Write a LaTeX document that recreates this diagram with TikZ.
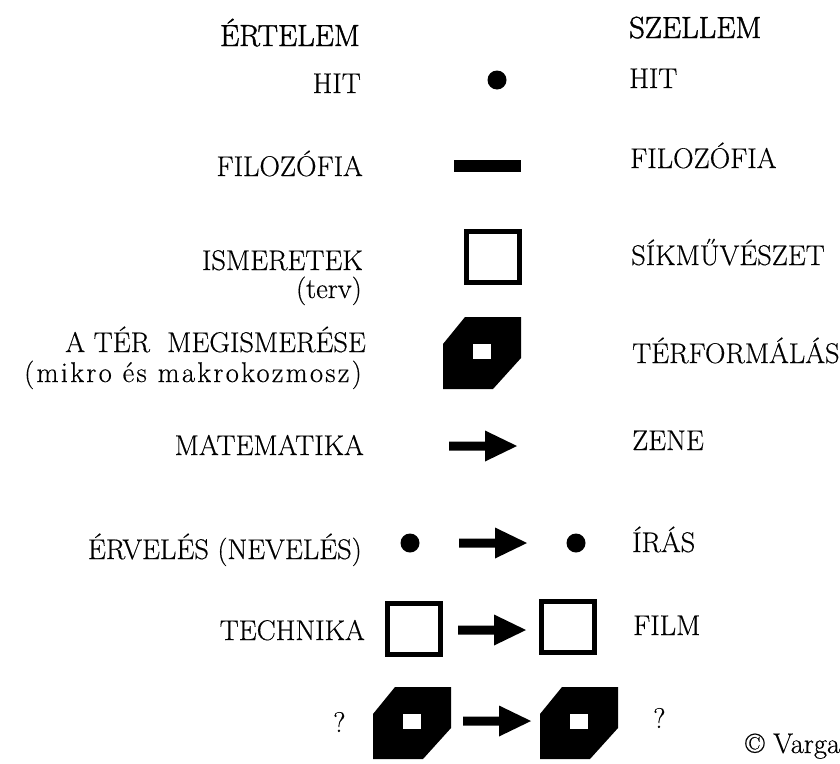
\documentclass[tikz,border=0pt]{standalone}
\usepackage{fontspec}
\setmainfont[FakeBold=0.4]{Latin Modern Roman}
\newfontfamily\headfont[FakeBold=1.4]{Latin Modern Roman}
\newfontfamily\spacedfont[LetterSpace=8,FakeBold=0.4]{Latin Modern Roman}
\begin{document}
\begin{tikzpicture}[x=1pt,y=-1pt,
  lbl/.style={inner sep=0pt, font=\fontsize{28.5}{32}\selectfont},
  lft/.style={lbl, anchor=base east},
  rgt/.style={lbl, anchor=base west},
  headl/.style={inner sep=0pt, font=\headfont\fontsize{30.5}{34}\selectfont},
  blackdot/.style={circle, fill=black, minimum size=19pt, inner sep=0pt},
  openbox/.style={draw=black, line width=5pt, minimum width=53pt, minimum height=51pt, inner sep=0pt},
  blackbar/.style={fill=black, minimum width=67pt, minimum height=12pt, inner sep=0pt},
  pics/bigarrow/.style={code={\fill[black] (0,-4.5) -- (36,-4.5) -- (36,-15.5) -- (68,0) -- (36,15.5) -- (36,4.5) -- (0,4.5) -- cycle;}},
  pics/cube/.style={code={\fill[black] (0,27) -- (22,0) -- (78,0) -- (78,41) -- (50,72) -- (0,72) -- cycle; \fill[white] (30,27) rectangle (48,42);}}
]
\fill[white] (0,0) rectangle (840,763);
\useasboundingbox (0,0) rectangle (840,763);

% headers
\node[headl, anchor=base east] (hl) at (360,46) {ÉRTELEM};
\node[headl, anchor=base west] (hr) at (629,38) {SZELLEM};

% row 1
\node[lft] (l1) at (361,93) {HIT};
\node[blackdot] (d1) at (497,80) {};
\node[rgt] (r1) at (629,88) {HIT};

% row 2
\node[lft] (l2) at (363,176) {FILOZÓFIA};
\node[blackbar] (b2) at (487.5,166) {};
\node[rgt] (r2) at (630,168) {FILOZÓFIA};

% row 3
\node[lft] (l3) at (363,270) {ISMERETEK};
\node[lft] (l3b) at (362,298) {(terv)};
\node[openbox] (s3) at (492.5,257) {};
\node[rgt] (r3) at (631,265) {SÍKMŰVÉSZET};

% row 4
\node[lft] (l4) at (366,352) {A TÉR\ \ MEGISMERÉSE};
\node[lft, font=\spacedfont\fontsize{28.5}{32}\selectfont] (l4b) at (362,382) {(mikro és makrokozmosz)};
\pic (c4) at (443,317) {cube};
\node[rgt] (r4) at (632,363) {TÉRFORMÁLÁS};

% row 5
\node[lft] (l5) at (364,455) {MATEMATIKA};
\pic (a5) at (449,446) {bigarrow};
\node[rgt] (r5) at (632,450) {ZENE};

% row 6
\node[lft] (l6) at (362,559) {ÉRVELÉS (NEVELÉS)};
\node[blackdot] (d6a) at (410,543) {};
\pic (a6) at (459,543) {bigarrow};
\node[blackdot] (d6b) at (576,543) {};
\node[rgt] (r6) at (632,552) {ÍRÁS};

% row 7
\node[lft] (l7) at (365,640) {TECHNIKA};
\node[openbox] (s7a) at (414,628.5) {};
\pic (a7) at (458,630) {bigarrow};
\node[openbox] (s7b) at (568,627) {};
\node[rgt] (r7) at (633,635) {FILM};

% row 8
\node[lbl, anchor=base west] (l8) at (333,732) {?};
\pic (c8a) at (373,687) {cube};
\pic (a8) at (463,721) {bigarrow};
\pic (c8b) at (540,687) {cube};
\node[lbl, anchor=base west] (r8) at (653,728) {?};
\node[lbl, anchor=base west] (cr) at (745,753) {© Varga};
\end{tikzpicture}
\end{document}
